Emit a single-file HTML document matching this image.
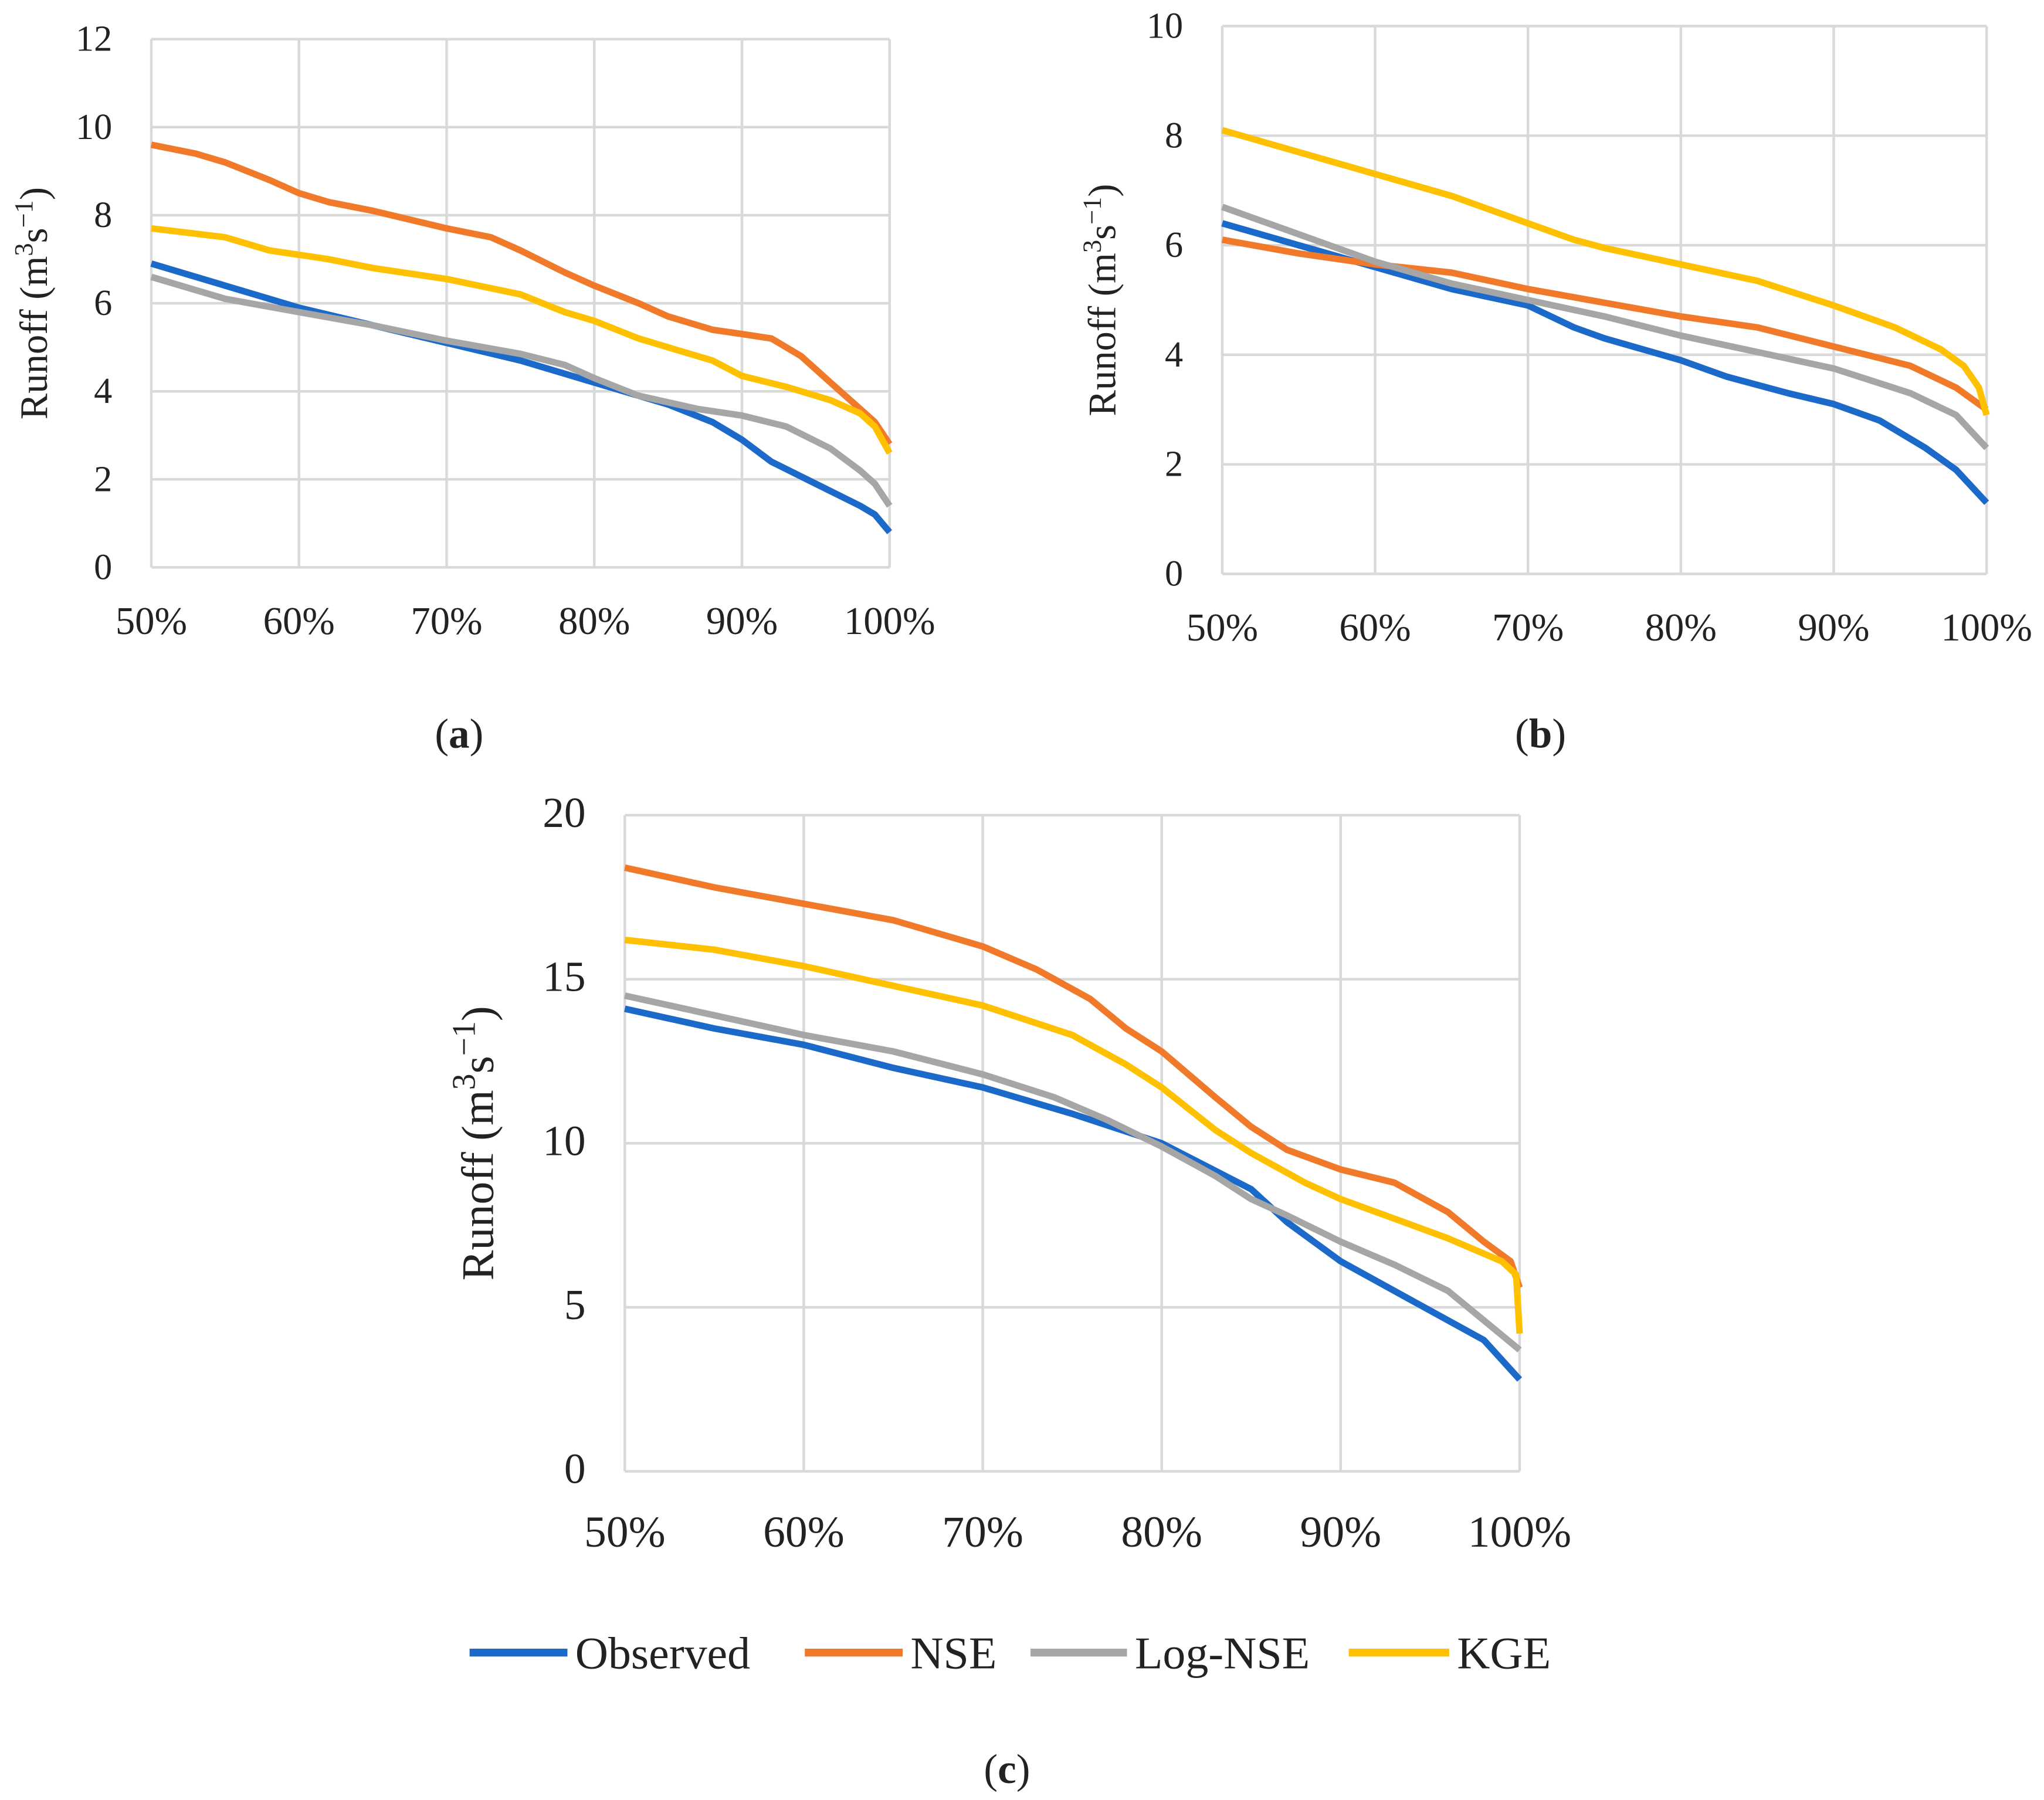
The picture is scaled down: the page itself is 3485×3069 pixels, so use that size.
<!DOCTYPE html>
<html><head><meta charset="utf-8"><style>
html,body{margin:0;padding:0;background:#fff;}
svg{display:block;}
svg text, svg tspan{font-family:"Liberation Serif",serif;fill:#222;}
</style></head><body>
<svg id="fig" width="3485" height="3069" viewBox="0 0 1567 1380" preserveAspectRatio="none" xmlns="http://www.w3.org/2000/svg" font-family="Liberation Serif, serif"></svg>
<script>
const NS="http://www.w3.org/2000/svg";
const seriesNames=["Observed","NSE","Log-NSE","KGE"];
const colors=["#1b6ac9","#f07a2a","#a6a6a6","#ffc000"];
const xTicks=[50,60,70,80,90,100];
// panel a
const aObsX=[50,55,60,65,70,75,80,85,88,90,92,95,98,99,100];
const aObsY=[6.9,6.4,5.9,5.5,5.1,4.7,4.2,3.7,3.3,2.9,2.4,1.9,1.4,1.2,0.8];
const aNseX=[50,53,55,58,60,62,65,70,73,75,78,80,83,85,88,90,92,94,96,98,99,100];
const aNseY=[9.6,9.4,9.2,8.8,8.5,8.3,8.1,7.7,7.5,7.2,6.7,6.4,6.0,5.7,5.4,5.3,5.2,4.8,4.2,3.6,3.3,2.8];
const aLogX=[50,55,60,65,70,75,78,80,83,87,90,93,96,98,99,100];
const aLogY=[6.6,6.1,5.8,5.5,5.15,4.85,4.6,4.3,3.9,3.6,3.45,3.2,2.7,2.2,1.9,1.4];
const aKgeX=[50,55,58,62,65,70,75,78,80,83,85,88,90,93,96,98,99,100];
const aKgeY=[7.7,7.5,7.2,7.0,6.8,6.55,6.2,5.8,5.6,5.2,5.0,4.7,4.35,4.1,3.8,3.5,3.2,2.6];
const aTicks=[0,2,4,6,8,10,12];
// panel b
const bObsX=[50,55,60,65,70,73,75,80,83,87,90,93,96,98,99,100];
const bObsY=[6.4,6.0,5.6,5.2,4.9,4.5,4.3,3.9,3.6,3.3,3.1,2.8,2.3,1.9,1.6,1.3];
const bNseX=[50,55,60,65,70,75,80,85,90,95,98,100];
const bNseY=[6.1,5.85,5.65,5.5,5.2,4.95,4.7,4.5,4.15,3.8,3.4,3.0];
const bLogX=[50,55,60,65,70,75,80,85,90,95,98,100];
const bLogY=[6.7,6.2,5.7,5.3,5.0,4.7,4.35,4.05,3.75,3.3,2.9,2.3];
const bKgeX=[50,55,60,65,70,73,75,80,85,90,94,97,98.5,99.5,100];
const bKgeY=[8.1,7.7,7.3,6.9,6.4,6.1,5.95,5.65,5.35,4.9,4.5,4.1,3.8,3.4,2.9];
const bTicks=[0,2,4,6,8,10];
// panel c
const cObsX=[50,55,60,65,70,75,80,85,87,90,93,96,98,100];
const cObsY=[14.1,13.5,13.0,12.3,11.7,10.9,10.0,8.6,7.6,6.4,5.5,4.6,4.0,2.8];
const cNseX=[50,55,60,65,70,73,76,78,80,83,85,87,90,93,96,98,99.5,100];
const cNseY=[18.4,17.8,17.3,16.8,16.0,15.3,14.4,13.5,12.8,11.4,10.5,9.8,9.2,8.8,7.9,7.0,6.4,5.6];
const cLogX=[50,55,60,65,70,74,77,80,83,85,87,90,93,96,98,100];
const cLogY=[14.5,13.9,13.3,12.8,12.1,11.4,10.7,9.9,9.0,8.3,7.8,7.0,6.3,5.5,4.6,3.7];
const cKgeX=[50,55,60,65,70,75,78,80,83,85,88,90,93,96,99,99.8,100];
const cKgeY=[16.2,15.9,15.4,14.8,14.2,13.3,12.4,11.7,10.4,9.7,8.8,8.3,7.7,7.1,6.4,6.0,4.2];
const cTicks=[0,5,10,15,20];

const svg=document.getElementById('fig');
const FF="Liberation Serif, serif";
function el(tag,attrs,parent){const e=document.createElementNS(NS,tag);for(const k in attrs)e.setAttribute(k,attrs[k]);if(tag==='text'||tag==='tspan')e.setAttribute('font-family',FF);(parent||svg).appendChild(e);return e;}

function panel(id,box,yMax,yTicks,series,fsX,fsY,titleX){
  const g=el('g',{});
  
  
  const sx=v=>box.x0+(v-50)/50*(box.x1-box.x0);
  const sy=v=>box.y0-v/yMax*(box.y0-box.y1);
  yTicks.forEach(t=>{
    const l=el('line',{x1:box.x0,x2:box.x1,y1:sy(t),y2:sy(t),stroke:'#d9d9d9','stroke-width':2},g);
    
    
    const tx=el('text',{x:box.x0-30,y:sy(t)+9,'text-anchor':'end','font-size':fsY},g);
    
    
    tx.textContent=t;
  });
  xTicks.forEach(t=>{
    const l=el('line',{x1:sx(t),x2:sx(t),y1:box.y1,y2:box.y0,stroke:'#d9d9d9','stroke-width':2},g);
    
    
    const tx=el('text',{x:sx(t),y:box.y0+fsX*1.7,'text-anchor':'middle','font-size':fsX},g);
    
    
    tx.textContent=t+'%';
  });
  series.forEach((s,i)=>{
    const d=s[0].map((x,j)=>(j?'L':'M')+sx(x).toFixed(1)+' '+sy(s[1][j]).toFixed(1)).join(' ');
    const p=el('path',{d:d,fill:'none',stroke:colors[i],'stroke-width':5,'stroke-linejoin':'round'},g);
    
    
  });
  const cy=(box.y0+box.y1)/2;
  const t=el('text',{x:titleX,y:cy,'text-anchor':'middle','font-size':fsY+2,transform:`rotate(-90 ${titleX} ${cy})`},g);
  
  
  const parts=[['Runoff (m',0],['3',1],['s',0],['−1',1],[')',0]];
  parts.forEach(p=>{
    const ts=el('tspan',p[1]?{'baseline-shift':'super','font-size':fsY-8}:{},t);
    ts.textContent=p[0];
  });
}
panel('a',{x0:116,x1:682,y0:435,y1:30},12,aTicks,[[aObsX,aObsY],[aNseX,aNseY],[aLogX,aLogY],[aKgeX,aKgeY]],30,28,36);
panel('b',{x0:937,x1:1523,y0:440,y1:20},10,bTicks,[[bObsX,bObsY],[bNseX,bNseY],[bLogX,bLogY],[bKgeX,bKgeY]],30,28,855);
panel('c',{x0:479,x1:1165,y0:1128,y1:625},20,cTicks,[[cObsX,cObsY],[cNseX,cNseY],[cLogX,cLogY],[cKgeX,cKgeY]],34,33,378);

[['(a)',352,573],['(b)',1181,573],['(c)',772,1367]].forEach(l=>{
  const t=el('text',{x:l[1],y:l[2],'text-anchor':'middle','font-size':32});
  
  
  const a=el('tspan',{},t);a.textContent='(';
  const b=el('tspan',{'font-weight':'bold'},t);b.textContent=l[0][1];
  const c=el('tspan',{},t);c.textContent=')';
});
const legX=[[360,441],[617,698],[790,870],[1034,1117]];
seriesNames.forEach((n,i)=>{
  const g=el('g',{});
  
  
  el('line',{x1:legX[i][0],x2:legX[i][1]-6,y1:1267,y2:1267,stroke:colors[i],'stroke-width':6},g);
  const t=el('text',{x:legX[i][1],y:1279,'font-size':35},g);
  t.textContent=n;
});
</script>
</body></html>
